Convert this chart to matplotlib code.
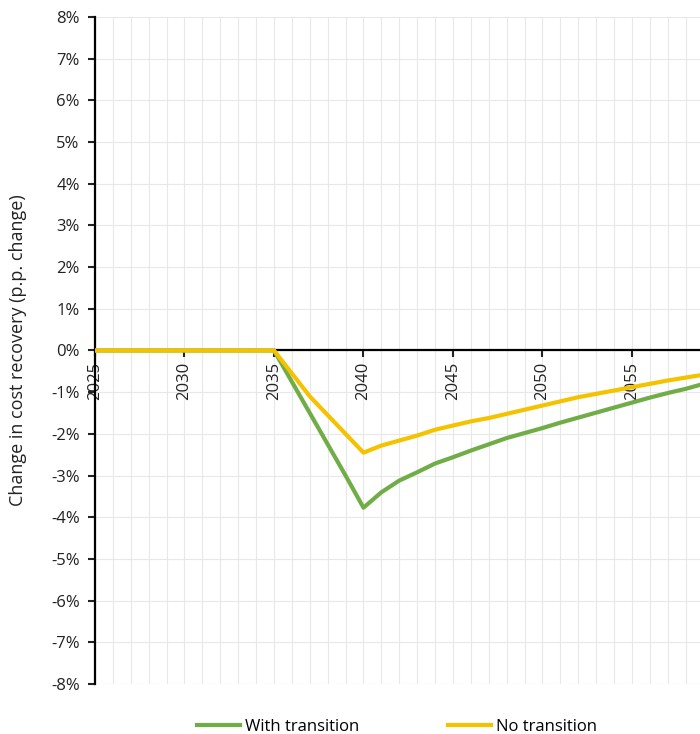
import matplotlib
matplotlib.use('Agg')
import matplotlib.pyplot as plt
from matplotlib.ticker import MultipleLocator, FuncFormatter

plt.rcParams['font.family'] = ['Open Sans', 'DejaVu Sans']
plt.rcParams['axes.unicode_minus'] = False

years = list(range(2025, 2061))
with_transition = [0.0] * 11 + [
    -0.75, -1.50, -2.25, -3.00, -3.77,
    -3.40, -3.12, -2.92, -2.71, -2.56, -2.40, -2.25, -2.10, -1.98, -1.86,
    -1.73, -1.61, -1.49, -1.37, -1.25, -1.13, -1.02, -0.92, -0.80, -0.70]
no_transition = [0.0] * 11 + [
    -0.55, -1.10, -1.55, -2.00, -2.45,
    -2.28, -2.16, -2.04, -1.90, -1.80, -1.70, -1.62, -1.52, -1.42, -1.32,
    -1.22, -1.12, -1.04, -0.96, -0.88, -0.80, -0.72, -0.65, -0.58, -0.52]

green = '#70AD47'
yellow = '#F5C200'

fig = plt.figure(figsize=(7.0, 7.34), dpi=100)
ax = fig.add_axes([0.1357, 0.068, 0.8643, 0.909])

ax.plot(years, with_transition, color=green, lw=3, label='With transition', zorder=3)
ax.plot(years, no_transition, color=yellow, lw=3, label='No transition', zorder=4)

ax.set_xlim(2025, 2058.8)
ax.set_ylim(-8, 8)

ax.xaxis.set_major_locator(MultipleLocator(5))
ax.xaxis.set_minor_locator(MultipleLocator(1))
ax.yaxis.set_major_locator(MultipleLocator(1))
ax.yaxis.set_major_formatter(FuncFormatter(lambda v, p: '%d%%' % round(v)))

ax.grid(True, which='both', axis='x', color='#e8e8e8', lw=0.8, zorder=0)
ax.grid(True, which='major', axis='y', color='#e8e8e8', lw=0.8, zorder=0)

for s in ['top', 'right']:
    ax.spines[s].set_visible(False)
ax.spines['bottom'].set_position(('data', 0))
ax.spines['bottom'].set_linewidth(1.6)
ax.spines['left'].set_linewidth(1.6)
ax.spines['bottom'].set_zorder(2)

ax.tick_params(axis='x', which='major', direction='out', length=5, width=1.5,
               labelsize=12, labelrotation=90, pad=3, colors='#222222')
ax.tick_params(axis='x', which='minor', length=0)
ax.tick_params(axis='y', direction='out', length=5, width=1.5, labelsize=12,
               pad=6, colors='#222222')
for t in ax.get_xticklabels():
    t.set_verticalalignment('top')

ax.set_ylabel('Change in cost recovery (p.p. change)', fontsize=13, color='#222222', labelpad=17)

fig.legend(loc='lower center', bbox_to_anchor=(0.567, -0.022), ncol=2, frameon=False,
           fontsize=12, handlelength=2.6, handletextpad=0.3, columnspacing=5.3)

fig.savefig('out.png', dpi=100)
